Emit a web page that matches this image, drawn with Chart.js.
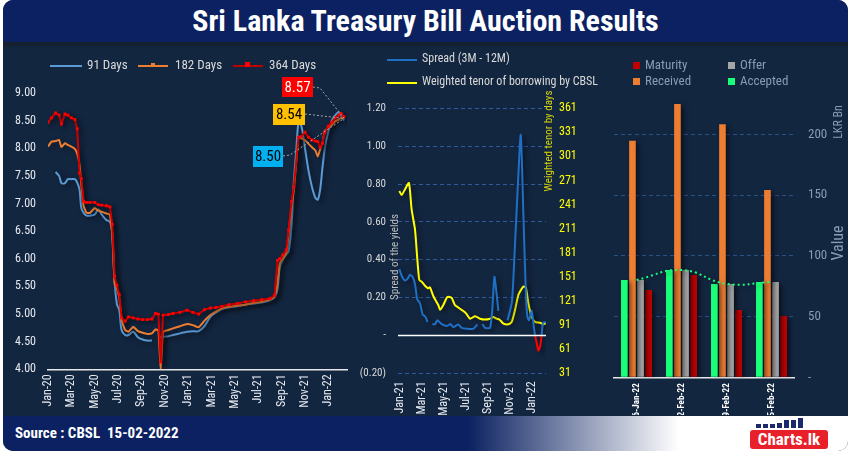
<!DOCTYPE html>
<html><head><meta charset="utf-8">
<script src="https://cdn.jsdelivr.net/npm/chart.js@4"></script>
<style>
html,body{margin:0;padding:0;background:#fff;width:851px;height:452px;overflow:hidden;font-family:"Roboto Condensed",sans-serif;}
#frame{position:absolute;left:3px;top:0;width:845px;height:451px;border-radius:10px;overflow:hidden;background:#132640;}
#title{position:absolute;left:0;top:0;width:845px;height:42px;background:#0b2161;color:#fff;font-weight:bold;font-size:30px;text-align:center;line-height:42px;}
#strip{position:absolute;left:0;top:42px;width:845px;height:4px;background:#15202f;}
#footer{position:absolute;left:0;top:416px;width:845px;height:35px;background:linear-gradient(to right,#0b2161 0%,#0b2161 55%,#ffffff 80%,#ffffff 100%);}
#src{position:absolute;left:12px;top:0;line-height:35px;color:#fff;font-size:15px;font-weight:bold;}
canvas{position:absolute;}
.lg{position:absolute;color:#d9d9d9;font-size:13px;white-space:nowrap;}
.ln{position:absolute;height:2px;}
.sq{position:absolute;width:7px;height:7px;}
.lg3{position:absolute;color:#8a9bb5;font-size:13px;white-space:nowrap;}
#logo{position:absolute;left:745px;top:2px;width:95px;height:32px;}
</style></head><body>
<div id="frame">
  <div id="title">Sri Lanka Treasury Bill Auction Results</div>
  <div id="strip"></div>
  <canvas id="c1" width="360" height="370" style="left:-3px;top:45px;"></canvas>
  <canvas id="c2" width="235" height="370" style="left:352px;top:45px;"></canvas>
  <canvas id="c3" width="258" height="370" style="left:587px;top:45px;"></canvas>

  <div class="ln" style="left:47px;top:65px;width:32px;background:#5b9bd5;"></div>
  <div class="lg" style="left:84px;top:57px;">91 Days</div>
  <div class="ln" style="left:135px;top:65px;width:30px;background:#ed7d31;"></div>
  <div class="sq" style="left:148px;top:63px;width:4px;height:4px;background:#ed7d31;"></div>
  <div class="lg" style="left:172px;top:57px;">182 Days</div>
  <div class="ln" style="left:230px;top:65px;width:30px;background:#c00000;"></div>
  <div class="sq" style="left:242px;top:62px;width:5px;height:5px;background:#ff0000;"></div>
  <div class="lg" style="left:266px;top:57px;">364 Days</div>

  <div class="ln" style="left:384px;top:59px;width:30px;background:#1f6fc5;"></div>
  <div class="lg" style="left:419px;top:51px;font-size:12px;">Spread (3M - 12M)</div>
  <div class="ln" style="left:384px;top:82px;width:30px;background:#ffff00;"></div>
  <div class="lg" style="left:419px;top:74px;font-size:12px;">Weighted tenor of borrowing by CBSL</div>

  <div class="sq" style="left:630px;top:62px;background:#c00000;"></div>
  <div class="lg3" style="left:642px;top:57px;">Maturity</div>
  <div class="sq" style="left:725px;top:62px;background:#a5a5a5;"></div>
  <div class="lg3" style="left:737px;top:57px;">Offer</div>
  <div class="sq" style="left:630px;top:78px;background:#ed7d31;"></div>
  <div class="lg3" style="left:642px;top:73px;">Received</div>
  <div class="sq" style="left:725px;top:78px;background:#1aff7a;"></div>
  <div class="lg3" style="left:737px;top:73px;">Accepted</div>

  <div id="footer">
    <div id="src">Source : CBSL&nbsp;&nbsp;15-02-2022</div>
    <div id="logo">
      <div style="position:absolute;left:8px;top:6px;width:5px;height:4px;background:#1a2a6c"></div>
      <div style="position:absolute;left:15px;top:6px;width:5px;height:4px;background:#1a2a6c"></div>
      <div style="position:absolute;left:22px;top:6px;width:5px;height:4px;background:#1a2a6c"></div>
      <div style="position:absolute;left:29px;top:5px;width:5px;height:5px;background:#1a2a6c"></div>
      <div style="position:absolute;left:36px;top:2px;width:5px;height:8px;background:#1a2a6c"></div>
      <div style="position:absolute;left:43px;top:2px;width:5px;height:8px;background:#1a2a6c"></div>
      <div style="position:absolute;left:50px;top:0px;width:5px;height:10px;background:#1a2a6c"></div>
      <div style="position:absolute;left:2px;top:12px;width:78px;height:19px;background:#e8202a;border-radius:3px;color:#fff;font-weight:bold;font-size:17px;line-height:19px;text-align:center;">Charts.lk</div>
    </div>
  </div>
</div>
<script>
// ---------- Chart 1 : T-bill yields ----------
const months1 = [0,0.3,0.65,0.95,1.15,1.45,1.7,2.0,2.3,2.5,2.7,2.85,3.05,3.3,3.6,4.0,4.3,4.6,5.0,5.3,5.5,5.7,5.9,6.1,6.3,6.6,6.9,7.3,7.7,8.1,8.5,8.9,9.2,9.45,9.65,9.85,10.3,10.7,11.3,11.9,12.4,12.9,13.4,13.9,14.4,14.9,15.5,16.2,16.9,17.6,18.3,19.0,19.4,19.65,19.85,20.1,20.4,20.6,20.85,21.05,21.25,21.45,21.7,22.0,22.3,22.6,22.9,23.1,23.3,23.5,23.7,24.0,24.3,24.6,24.9,25.1,25.35];
const yield91 = [null,null,7.57,7.50,7.37,7.37,7.44,7.44,7.44,7.38,7.25,6.92,6.83,6.78,6.78,6.80,6.89,6.80,6.70,6.67,6.45,5.60,5.18,5.07,4.71,4.62,4.62,4.68,4.58,4.54,4.52,4.52,null,4.59,4.58,4.59,4.60,4.62,4.65,4.68,4.69,4.69,4.78,4.95,5.03,5.09,5.12,5.14,5.17,5.19,5.21,5.25,5.30,5.45,5.86,5.98,6.08,6.13,6.60,7.40,7.95,8.46,8.40,8.00,7.60,7.30,7.10,7.07,7.25,7.65,8.00,8.30,8.50,8.60,8.65,8.58,8.50];
const yield182 = [8.03,8.12,8.13,8.15,8.02,8.09,8.06,8.03,7.99,7.90,7.70,7.36,6.95,6.83,6.83,6.92,6.87,6.85,6.82,6.80,6.45,5.56,5.46,5.30,4.89,4.71,4.68,4.77,4.69,4.66,4.64,4.65,4.72,4.71,4.00,4.68,4.71,4.74,4.78,4.82,4.80,4.76,4.88,4.98,5.05,5.10,5.13,5.15,5.17,5.20,5.22,5.26,5.32,5.55,5.92,6.00,6.10,6.45,6.95,7.25,null,8.21,8.18,8.15,8.08,8.02,7.96,7.85,7.98,8.10,8.32,8.37,8.42,8.49,8.52,8.55,8.54];
const yield364 = [8.47,8.55,8.64,8.60,8.44,8.62,8.60,8.55,8.52,8.35,7.55,7.45,7.04,7.02,7.02,7.02,6.98,6.97,6.96,6.94,6.62,5.68,5.52,5.35,4.93,4.87,4.95,4.93,4.91,4.90,4.90,4.91,5.01,5.00,4.13,4.98,4.99,5.01,5.03,5.07,5.03,5.00,5.08,5.11,5.12,5.14,5.17,5.19,5.22,5.24,5.26,5.28,5.34,5.97,6.00,6.07,6.16,6.52,7.04,7.30,null,8.20,8.21,8.29,8.20,8.15,8.13,8.12,8.02,8.09,8.29,8.40,8.47,8.55,8.60,8.63,8.57];
const tickMonths1 = [0,2,4,6,8,10,12,14,16,18,20,22,24];
const tickLabels1 = ['Jan-20','Mar-20','May-20','Jul-20','Sep-20','Nov-20','Jan-21','Mar-21','May-21','Jul-21','Sep-21','Nov-21','Jan-22'];
const latestLabels = ['8.57','8.54','8.50'];

// ---------- Chart 2 : spread & tenor ----------
const spreadMonths = [-0.06,0.2,0.45,0.7,0.9,1.15,1.37,1.58,1.82,2.07,2.3,2.52,2.75,2.95,3.2,3.4,3.8,4.3,4.6,4.86,5.3,5.62,6.13,6.68,7.05,7.25,7.5,7.75,8.2,8.4,8.6,8.8,8.96,9.3,9.8,10.2,10.45,10.7,11.0,11.25,11.45,11.6,11.75,12.0,12.16,12.3,12.47,12.6,12.76,12.9,13.0,13.15,13.3];
const spreadVals = [0.35,0.31,0.29,0.30,0.32,0.31,0.27,0.19,0.17,0.11,0.10,0.07,null,0.06,0.06,0.08,0.06,0.05,0.06,0.044,0.058,0.04,0.035,0.035,0.058,null,0.06,0.04,0.04,0.13,0.31,0.22,0.13,null,0.08,0.18,0.45,0.75,1.06,0.62,0.25,0.10,0.08,0.13,0.06,0,-0.044,-0.08,-0.06,0,0.06,0.07,0.07];
const tenorMonths = [-0.06,0.15,0.45,0.82,1.06,1.37,1.58,1.76,1.98,2.28,2.53,2.73,3.04,3.49,3.65,3.95,4.31,4.71,5.0,5.3,5.62,6.0,6.38,6.84,7.29,7.75,8.2,8.5,8.8,9.05,9.42,9.87,10.18,10.48,10.79,11.24,11.46,11.7,12.0,12.3,12.76,13.07,13.37];
const tenorDays = [258,253,260,268,235,210,173,147,145,140,137,138,127,116,110,116,126,125,116,113,110,106,99,102,99,98,99,101,99,98,93,92,95,110,129,139,138,118,101,95,94,92,94];
const tickMonths2 = [0,2,4,6,8,10,12];
const tickLabels2 = ['Jan-21','Mar-21','May-21','Jul-21','Sep-21','Nov-21','Jan-22'];

// ---------- Chart 3 : auction ----------
const auctionDates = ['26-Jan-22','02-Feb-22','09-Feb-22','15-Feb-22'];
const accepted = [80.1,88.4,76.9,78.5];
const received = [194.7,225.1,208.4,154.3];
const offer = [80.1,88.4,76.9,78.5];
const maturity = [71.9,84.3,55.4,50.5];
const valueTicks = [0,50,100,150,200];

const FONT = '"Roboto Condensed",sans-serif';
Chart.defaults.font.family = FONT;
Chart.defaults.animation = false;
Chart.defaults.responsive = false;
Chart.defaults.plugins.legend.display = false;
Chart.defaults.plugins.tooltip.enabled = false;

const shadow = {
  id:'shadow',
  beforeDatasetsDraw(c){const x=c.ctx;x.save();x.shadowColor='rgba(0,0,0,0.55)';x.shadowBlur=5;x.shadowOffsetX=3;x.shadowOffsetY=2;},
  afterDatasetsDraw(c){c.ctx.restore();}
};
const pts = (xs, ys) => xs.map((x,i)=>({x:x, y:ys[i]}));

// Chart 1
const calloutPlugin = {
  id:'callout',
  afterDatasetsDraw(c){
    const ctx=c.ctx, xs=c.scales.x, ys=c.scales.y;
    const last = months1.length-1;
    const ex = xs.getPixelForValue(months1[last]);
    const ey = ys.getPixelForValue(yield182[last]);
    const boxes = [
      {t:latestLabels[0], x:282, y:32, w:31, h:20, bg:'#ff0000', fg:'#ffffff', lx:[[313,42],[320,43]]},
      {t:latestLabels[1], x:273, y:59, w:32, h:21, bg:'#ffc000', fg:'#000000', lx:[[305,69]]},
      {t:latestLabels[2], x:253, y:101, w:30, h:21, bg:'#00b0f0', fg:'#000000', lx:[[283,111],[290,110]]}
    ];
    ctx.save();
    ctx.strokeStyle='#a6a6a6'; ctx.lineWidth=1; ctx.setLineDash([2,2]);
    boxes.forEach(b=>{ctx.beginPath();ctx.moveTo(b.lx[0][0],b.lx[0][1]);b.lx.slice(1).forEach(p=>ctx.lineTo(p[0],p[1]));ctx.lineTo(ex,ey);ctx.stroke();});
    ctx.setLineDash([]);
    boxes.forEach(b=>{
      ctx.fillStyle=b.bg; ctx.fillRect(b.x,b.y,b.w,b.h);
      ctx.fillStyle=b.fg; ctx.font='15px '+FONT; ctx.textAlign='center'; ctx.textBaseline='middle';
      ctx.fillText(b.t,b.x+b.w/2,b.y+b.h/2+1);
    });
    ctx.restore();
  }
};
new Chart(document.getElementById('c1'),{
  type:'line',
  data:{datasets:[
    {label:'364 Days',data:pts(months1,yield364),borderColor:'#d00000',backgroundColor:'#ff0000',pointBackgroundColor:'#ff0000',pointBorderWidth:0,pointStyle:'rect',pointRadius:2,borderWidth:2,spanGaps:true,order:1},
    {label:'182 Days',data:pts(months1,yield182),borderColor:'#ed7d31',pointRadius:0,borderWidth:2,spanGaps:true,tension:0.1,order:2},
    {label:'91 Days',data:pts(months1,yield91),borderColor:'#5b9bd5',pointRadius:0,borderWidth:2,spanGaps:false,tension:0.3,order:3}
  ]},
  options:{
    parsing:false,
    layout:{padding:{top:48,right:13,left:0,bottom:0}},
    scales:{
      x:{type:'linear',min:0,max:25.6,
        afterBuildTicks(s){s.ticks=tickMonths1.map(v=>({value:v}));},
        afterFit(s){s.height=45.7;},
        grid:{display:false,drawTicks:false},border:{display:true,color:'#e8e8e8',width:1.5},
        ticks:{autoSkip:false,minRotation:90,maxRotation:90,padding:5,color:'#e6eaf0',font:{size:12},callback:(v)=>tickLabels1[tickMonths1.indexOf(v)]}},
      y:{min:4,max:9,
        afterFit(s){s.width=48;},
        grid:{display:false,drawTicks:false},border:{display:false},
        ticks:{stepSize:0.5,padding:12,color:'#e6eaf0',font:{size:12},callback:(v)=>v.toFixed(2)}}
    }
  },
  plugins:[shadow,calloutPlugin]
});

// Chart 2
const axisTitles2 = {
  id:'axisTitles2',
  afterDraw(c){
    const ctx=c.ctx, ys=c.scales.y;
    ctx.save();
    const z=ys.getPixelForValue(0);
    ctx.strokeStyle='#ffffff';ctx.lineWidth=1.5;ctx.beginPath();ctx.moveTo(c.chartArea.left,z);ctx.lineTo(c.chartArea.right,z);ctx.stroke();
    ctx.font='11px '+FONT;ctx.textAlign='center';ctx.textBaseline='middle';
    ctx.translate(40,212);ctx.rotate(-Math.PI/2);ctx.fillStyle='#bfbfbf';ctx.fillText('Spread of the yields',0,0);
    ctx.restore();
    ctx.save();
    ctx.font='11px '+FONT;ctx.textAlign='center';ctx.textBaseline='middle';
    ctx.translate(194,96);ctx.rotate(-Math.PI/2);ctx.fillStyle='#d6d60a';ctx.fillText('Weighted tenor by days',0,0);
    ctx.restore();
  }
};
new Chart(document.getElementById('c2'),{
  type:'line',
  data:{datasets:[
    {label:'Spread (3M - 12M)',data:pts(spreadMonths,spreadVals),yAxisID:'y',borderColor:'#1f6fc5',borderWidth:2,pointRadius:0,tension:0.2,spanGaps:false,
      segment:{borderColor:(s)=>(s.p0.parsed.y<0||s.p1.parsed.y<0)?'#ff0000':'#1f6fc5'}},
    {label:'Weighted tenor of borrowing by CBSL',data:pts(tenorMonths,tenorDays),yAxisID:'y2',borderColor:'#ffff00',borderWidth:2,pointRadius:0,tension:0.2}
  ]},
  options:{
    parsing:false,
    layout:{padding:{top:63.3,right:0,left:0,bottom:0}},
    scales:{
      x:{type:'linear',min:-0.18,max:13.3,
        afterBuildTicks(s){s.ticks=tickMonths2.map(v=>({value:v}));},
        afterFit(s){s.height=41.7;},
        grid:{display:false,drawTicks:false},border:{display:false},
        ticks:{autoSkip:false,minRotation:90,maxRotation:90,padding:8,color:'#e6eaf0',font:{size:12},callback:(v)=>tickLabels2[tickMonths2.indexOf(v)]}},
      y:{position:'left',min:-0.2,max:1.2,
        afterFit(s){s.width=43;},
        grid:{drawTicks:false,color:(ctx)=>Math.abs(ctx.tick.value)<1e-9?'rgba(0,0,0,0)':'#2f5a9e'},border:{display:false,dash:[4,3]},
        ticks:{stepSize:0.2,padding:12,color:'#d9d9d9',font:{size:11},
          callback:(v)=>Math.abs(v)<1e-9?'-':(v<0?'('+Math.abs(v).toFixed(2)+')':v.toFixed(2))}},
      y2:{position:'right',min:31,max:361,
        afterFit(s){s.width=44;},
        grid:{display:false,drawTicks:false},border:{display:false},
        ticks:{stepSize:30,padding:13,color:'#ffff00',font:{size:12}}}
    }
  },
  plugins:[shadow,axisTitles2]
});

// Chart 3
const axisTitles3 = {
  id:'axisTitles3',
  afterDraw(c){
    const ctx=c.ctx;
    ctx.save();ctx.fillStyle='#8a9bb5';ctx.textAlign='center';ctx.textBaseline='middle';
    ctx.font='12px '+FONT;ctx.translate(249,77);ctx.rotate(-Math.PI/2);ctx.fillText('LKR Bn',0,0);
    ctx.restore();
    ctx.save();ctx.fillStyle='#8a9bb5';ctx.textAlign='center';ctx.textBaseline='middle';
    ctx.font='16px '+FONT;ctx.translate(249,198);ctx.rotate(-Math.PI/2);ctx.fillText('Value',0,0);
    ctx.restore();
  }
};
new Chart(document.getElementById('c3'),{
  data:{labels:auctionDates,datasets:[
    {type:'line',label:'Trend',data:accepted,borderColor:'#1aff7a',borderDash:[2,3],borderWidth:2,pointRadius:0,tension:0.45,order:0},
    {type:'bar',label:'Accepted',data:accepted,backgroundColor:'#1aff7a',order:1},
    {type:'bar',label:'Received',data:received,backgroundColor:'#ed7d31',order:1},
    {type:'bar',label:'Offer',data:offer,backgroundColor:'#a5a5a5',order:1},
    {type:'bar',label:'Maturity',data:maturity,backgroundColor:'#c00000',order:1}
  ]},
  options:{
    datasets:{bar:{categoryPercentage:0.72,barPercentage:0.82}},
    layout:{padding:{top:53,left:24,right:0,bottom:0}},
    scales:{
      x:{afterFit(s){s.height=37.7;},
        grid:{display:false,drawTicks:false},border:{display:true,color:'#e8e8e8',width:1.5},
        ticks:{autoSkip:false,minRotation:90,maxRotation:90,padding:6,color:'#ffffff',font:{size:9,weight:'bold'}}},
      y:{position:'right',min:0,max:230,
        afterBuildTicks(s){s.ticks=valueTicks.map(v=>({value:v}));},
        afterFit(s){s.width=54;},
        grid:{drawTicks:false,color:(ctx)=>ctx.tick.value===0?'rgba(0,0,0,0)':'#2a4f86'},border:{display:false,dash:[4,3]},
        ticks:{padding:14,color:'#8a9bb5',font:{size:13},callback:(v)=>v===0?'-':String(v)}}
    }
  },
  plugins:[shadow,axisTitles3]
});
</script>
</body></html>
